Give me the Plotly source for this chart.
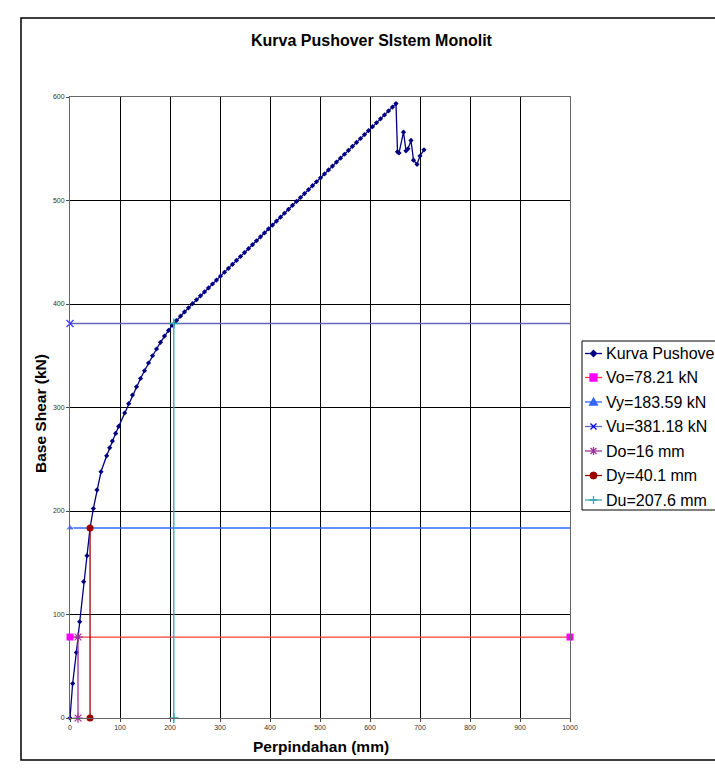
import plotly.graph_objects as go

# Pushover curve (Perpindahan mm, Base Shear kN)
curve_x = [0, 5.3, 12.7, 19.3, 27.3, 34, 40.1, 46.7, 54, 62, 73.3, 79.3, 84.7, 91.3, 97.3, 109.3, 117.3,
           125, 133, 141, 149, 157, 165, 173, 181, 189, 197, 205, 213, 221, 229, 237,
           245, 253, 261, 269, 277, 285, 293, 301, 309, 317, 325, 333, 341, 349, 357, 365,
           373, 381, 389, 397, 405, 413, 421, 429, 437, 445, 453, 461, 469, 477, 485, 493,
           501, 509, 517, 525, 533, 541, 549, 557, 565, 573, 581, 589, 597, 605, 613, 621,
           629, 637, 645, 652,
           655, 658, 667, 672, 676, 682, 687, 694, 700, 708]
curve_y = [0, 33.3, 63.3, 93, 131.7, 156.8, 183.59, 202.3, 220.4, 237.9, 253.3, 261, 267.6, 275, 281.7, 294.7, 303.7,
           312, 320, 328, 335.5, 343, 350, 356.5, 363, 369, 374.5, 379.5, 384, 388.2, 392.3, 396.3,
           400.3, 404.1, 407.9, 411.7, 415.5, 419.3, 423.1, 426.9, 430.7, 434.5, 438.3, 442.1, 445.9, 449.7, 453.5, 457.3,
           461.1, 464.9, 468.7, 472.5, 476.3, 480.1, 483.9, 487.7, 491.5, 495.3, 499.1, 502.9, 506.7, 510.5, 514.3, 518.1,
           521.9, 525.7, 529.5, 533.3, 537.1, 540.9, 544.7, 548.5, 552.3, 556.1, 559.9, 563.7, 567.5, 571.3, 575.1, 578.9,
           582.7, 586.5, 590.3, 593.6,
           547, 546, 566, 548, 550, 558, 539, 535, 543, 549]

Vo = 78.21
Vy = 183.59
Vu = 381.18
Do = 16
Dy = 40.1
Du = 207.6
x_max = 1000

x_ticks = [0, 100, 200, 300, 400, 500, 600, 700, 800, 900, 1000]
y_ticks = [0, 100, 200, 300, 400, 500, 600]

legend_names = ["Kurva Pushover", "Vo=78.21 kN", "Vy=183.59 kN", "Vu=381.18 kN",
                "Do=16 mm", "Dy=40.1 mm", "Du=207.6 mm"]

FONT = "Liberation Sans, Arial, sans-serif"

C_CURVE = "#000080"
C_VO_LINE, C_VO_MK = "#FF3B3B", "#FF00FF"
C_VY = "#3366FF"
C_VU_LINE, C_VU_MK = "#6666BB", "#0000FF"
C_DO = "#993399"
C_DY = "#990000"
C_DU = "#33AAAA"

fig = go.Figure()

fig.add_trace(go.Scatter(x=curve_x, y=curve_y, name=legend_names[0], mode="lines+markers",
                         line=dict(color=C_CURVE, width=1.3),
                         marker=dict(symbol="diamond", size=4, color=C_CURVE)))
fig.add_trace(go.Scatter(x=[0, x_max], y=[Vo, Vo], name=legend_names[1], mode="lines+markers",
                         line=dict(color=C_VO_LINE, width=1.3),
                         marker=dict(symbol="square", size=7, color=C_VO_MK)))
fig.add_trace(go.Scatter(x=[0, x_max], y=[Vy, Vy], name=legend_names[2], mode="lines+markers",
                         line=dict(color=C_VY, width=1.3),
                         marker=dict(symbol="triangle-up", size=[8, 0], color=C_VY)))
fig.add_trace(go.Scatter(x=[0, x_max], y=[Vu, Vu], name=legend_names[3], mode="lines+markers",
                         line=dict(color=C_VU_LINE, width=1.3),
                         marker=dict(symbol="x-thin", size=[7, 0], color=C_VU_MK,
                                     line=dict(color=C_VU_MK, width=1.5))))
fig.add_trace(go.Scatter(x=[Do, Do], y=[0, Vo], name=legend_names[4], mode="lines+markers",
                         line=dict(color=C_DO, width=1.3),
                         marker=dict(symbol="asterisk", size=8, color=C_DO,
                                     line=dict(color=C_DO, width=1.2))))
fig.add_trace(go.Scatter(x=[Dy, Dy], y=[0, Vy], name=legend_names[5], mode="lines+markers",
                         line=dict(color=C_DY, width=1.3),
                         marker=dict(symbol="circle", size=7, color=C_DY)))
fig.add_trace(go.Scatter(x=[Du, Du], y=[0, Vu], name=legend_names[6], mode="lines+markers",
                         line=dict(color=C_DU, width=1.3),
                         marker=dict(symbol="cross-thin", size=7, color=C_DU,
                                     line=dict(color=C_DU, width=1.5))))

for tr in fig.data:
    tr.cliponaxis = False
    tr.showlegend = False

# plot area in pixels: x 70..570, y 97..718
L, R, T, B = 70, 570, 97, 718
W, H = R - L, B - T


def px(xp):
    return (xp - L) / W


def py(yp):
    return (B - yp) / H


fig.update_layout(
    width=715, height=782,
    margin=dict(l=L, r=715 - R, t=T, b=782 - B, autoexpand=False),
    paper_bgcolor="white", plot_bgcolor="white",
    font=dict(family=FONT, color="black"),
    showlegend=False,
    xaxis=dict(range=[0, 1000], tickvals=x_ticks, ticktext=[str(v) for v in x_ticks],
               showgrid=True, gridcolor="black", gridwidth=1,
               showline=True, linecolor="#666666", linewidth=1, mirror=True,
               zeroline=False, ticks="outside", ticklen=3, tickcolor="#444",
               tickfont=dict(size=7, color="#333333", family=FONT)),
    yaxis=dict(range=[0, 600], tickvals=y_ticks, ticktext=[str(v) for v in y_ticks],
               showgrid=True, gridcolor="black", gridwidth=1,
               showline=True, linecolor="#666666", linewidth=1, mirror=True,
               zeroline=False, ticks="outside", ticklen=3, tickcolor="#444",
               tickfont=dict(size=7, color="#333333", family=FONT)),
)

shapes = []
annotations = []

# outer chart frame
shapes.append(dict(type="rect", xref="paper", yref="paper",
                   x0=px(21), x1=px(724), y0=py(760), y1=py(18),
                   line=dict(color="black", width=1.5), fillcolor="rgba(0,0,0,0)", layer="below"))

# title and axis titles
annotations.append(dict(text="<b>Kurva Pushover SIstem Monolit</b>", xref="paper", yref="paper",
                        x=px(371.5), y=py(40), xanchor="center", yanchor="middle", showarrow=False,
                        font=dict(size=16, family=FONT, color="black")))
annotations.append(dict(text="<b>Perpindahan (mm)</b>", xref="paper", yref="paper",
                        x=px(321), y=py(746), xanchor="center", yanchor="middle", showarrow=False,
                        font=dict(size=15.5, family=FONT, color="black")))
annotations.append(dict(text="<b>Base Shear (kN)</b>", xref="paper", yref="paper",
                        x=px(40), y=py(414), xanchor="center", yanchor="middle", showarrow=False,
                        textangle=-90, font=dict(size=15.5, family=FONT, color="black")))

# legend box
shapes.append(dict(type="rect", xref="paper", yref="paper",
                   x0=px(582), x1=px(728), y0=py(510), y1=py(341),
                   line=dict(color="black", width=1), fillcolor="white", layer="above"))

legend_line_colors = [C_CURVE, C_VO_LINE, C_VY, C_VU_LINE, C_DO, C_DY, C_DU]
glyphs = [
    (C_CURVE, "M 0,3 L 3,0 L 0,-3 L -3,0 Z", True),
    (C_VO_MK, "M -3.5,-3.5 L 3.5,-3.5 L 3.5,3.5 L -3.5,3.5 Z", True),
    (C_VY, "M -4,-3 L 4,-3 L 0,4 Z", True),
    (C_VU_MK, "M -3,-3 L 3,3 M -3,3 L 3,-3", False),
    (C_DO, "M -3,-3 L 3,3 M -3,3 L 3,-3 M 0,-4 L 0,4", False),
    (C_DY, "circle", True),
    (C_DU, "M -4,0 L 4,0 M 0,-4 L 0,4", False),
]
row_y = [353.5, 377.5, 402, 426.5, 451, 475.5, 500]
for name, lc, (gc, path, filled), yy in zip(legend_names, legend_line_colors, glyphs, row_y):
    shapes.append(dict(type="line", xref="paper", yref="paper",
                       x0=px(585), x1=px(602), y0=py(yy), y1=py(yy),
                       line=dict(color=lc, width=1.3), layer="above"))
    if path == "circle":
        shapes.append(dict(type="circle", xref="paper", yref="paper",
                           xsizemode="pixel", ysizemode="pixel",
                           xanchor=px(593.5), yanchor=py(yy),
                           x0=-3.5, x1=3.5, y0=-3.5, y1=3.5,
                           line=dict(color=gc, width=1), fillcolor=gc, layer="above"))
    else:
        shapes.append(dict(type="path", xref="paper", yref="paper",
                           xsizemode="pixel", ysizemode="pixel",
                           xanchor=px(593.5), yanchor=py(yy), path=path,
                           line=dict(color=gc, width=1.3),
                           fillcolor=gc if filled else "rgba(0,0,0,0)", layer="above"))
    annotations.append(dict(text=name, xref="paper", yref="paper",
                            x=px(604), y=py(yy), xanchor="left", yanchor="middle",
                            showarrow=False, font=dict(size=16, family=FONT, color="black")))

fig.update_layout(shapes=shapes, annotations=annotations)

fig.write_html("out.html")
